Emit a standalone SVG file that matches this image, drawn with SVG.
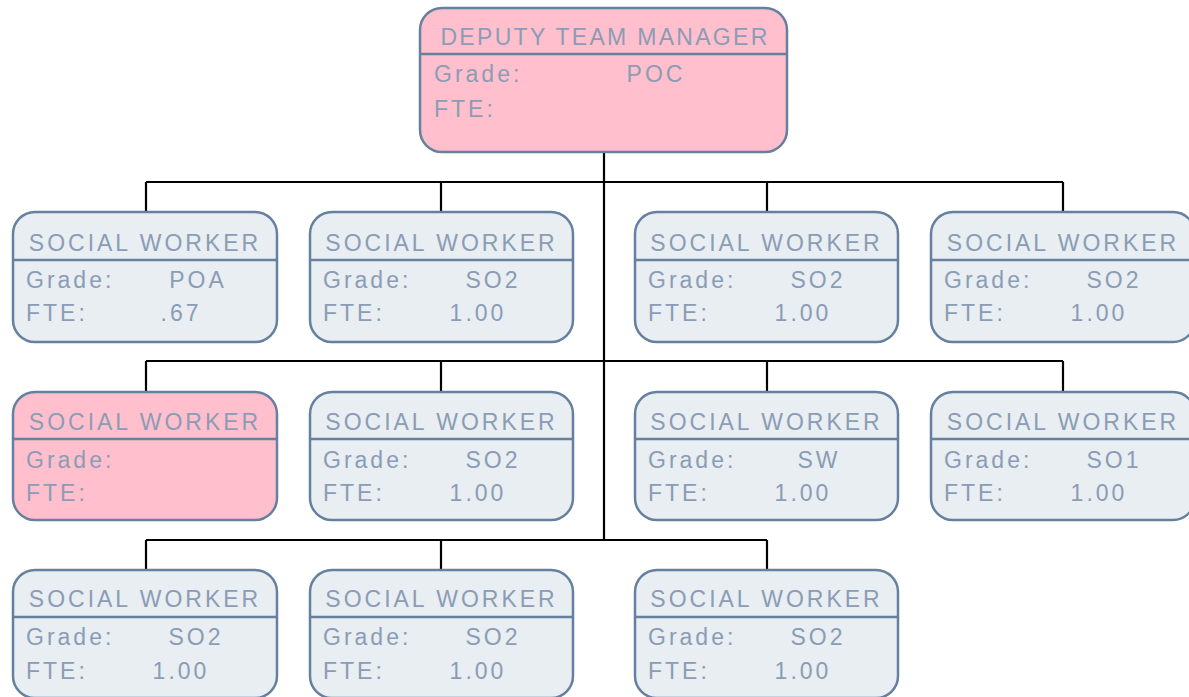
<svg xmlns="http://www.w3.org/2000/svg" width="1189" height="697" viewBox="0 0 1189 697">
<style>
.box{stroke:#66809f;stroke-width:2.5}
.pink{fill:#ffbfcc}
.grey{fill:#e8eef1}
.div{stroke:#66809f;stroke-width:2.5}
text{font-family:"Liberation Sans",Arial,sans-serif;font-size:23px;fill:#8b9cb6;letter-spacing:3px}
.t{text-anchor:middle;letter-spacing:3px}
.v{text-anchor:middle}
.con{stroke:#000;stroke-width:2.2;fill:none}
</style>
<g id="connectors">
<path class="con" d="M604 152V540M146 182H1063M146 182V212M441 182V212M767 182V212M1063 182V212M146 361H1063M146 361V392M441 361V392M767 361V392M1063 361V392M146 540H767M146 540V570M441 540V570M767 540V570"/>
</g>
<g id="n0">
<rect class="box pink" x="420" y="8" width="367" height="144" rx="22"/>
<line class="div" x1="420" y1="54" x2="787" y2="54"/>
<text class="t" x="605" y="45" style="letter-spacing:2.3px">DEPUTY TEAM MANAGER</text>
<text x="434" y="82">Grade:</text>
<text class="v" x="656" y="82">POC</text>
<text x="434" y="117">FTE:</text>
</g>
<g id="n1" transform="translate(13,212)">
<rect class="box grey" x="0" y="0" width="264" height="130" rx="22"/>
<line class="div" x1="0" y1="48" x2="264" y2="48"/>
<text class="t" x="132" y="38.5">SOCIAL WORKER</text>
<text x="13" y="75.5">Grade:</text><text class="v" x="185" y="75.5">POA</text>
<text x="13" y="108.5">FTE:</text><text class="v" x="168" y="108.5">.67</text>
</g>
<g id="n2" transform="translate(310,212)">
<rect class="box grey" x="0" y="0" width="263" height="130" rx="22"/>
<line class="div" x1="0" y1="48" x2="263" y2="48"/>
<text class="t" x="131.5" y="38.5">SOCIAL WORKER</text>
<text x="13" y="75.5">Grade:</text><text class="v" x="183" y="75.5">SO2</text>
<text x="13" y="108.5">FTE:</text><text class="v" x="168" y="108.5">1.00</text>
</g>
<g id="n3" transform="translate(635,212)">
<rect class="box grey" x="0" y="0" width="263" height="130" rx="22"/>
<line class="div" x1="0" y1="48" x2="263" y2="48"/>
<text class="t" x="131.5" y="38.5">SOCIAL WORKER</text>
<text x="13" y="75.5">Grade:</text><text class="v" x="183" y="75.5">SO2</text>
<text x="13" y="108.5">FTE:</text><text class="v" x="168" y="108.5">1.00</text>
</g>
<g id="n4" transform="translate(931,212)">
<rect class="box grey" x="0" y="0" width="264" height="130" rx="22"/>
<line class="div" x1="0" y1="48" x2="264" y2="48"/>
<text class="t" x="132" y="38.5">SOCIAL WORKER</text>
<text x="13" y="75.5">Grade:</text><text class="v" x="183" y="75.5">SO2</text>
<text x="13" y="108.5">FTE:</text><text class="v" x="168" y="108.5">1.00</text>
</g>
<g id="n5" transform="translate(13,392)">
<rect class="box pink" x="0" y="0" width="264" height="128" rx="22"/>
<line class="div" x1="0" y1="47" x2="264" y2="47"/>
<text class="t" x="132" y="37.5">SOCIAL WORKER</text>
<text x="13" y="75.5">Grade:</text>
<text x="13" y="108.5">FTE:</text>
</g>
<g id="n6" transform="translate(310,392)">
<rect class="box grey" x="0" y="0" width="263" height="128" rx="22"/>
<line class="div" x1="0" y1="47" x2="263" y2="47"/>
<text class="t" x="131.5" y="37.5">SOCIAL WORKER</text>
<text x="13" y="75.5">Grade:</text><text class="v" x="183" y="75.5">SO2</text>
<text x="13" y="108.5">FTE:</text><text class="v" x="168" y="108.5">1.00</text>
</g>
<g id="n7" transform="translate(635,392)">
<rect class="box grey" x="0" y="0" width="263" height="128" rx="22"/>
<line class="div" x1="0" y1="47" x2="263" y2="47"/>
<text class="t" x="131.5" y="37.5">SOCIAL WORKER</text>
<text x="13" y="75.5">Grade:</text><text class="v" x="184" y="75.5">SW</text>
<text x="13" y="108.5">FTE:</text><text class="v" x="168" y="108.5">1.00</text>
</g>
<g id="n8" transform="translate(931,392)">
<rect class="box grey" x="0" y="0" width="264" height="128" rx="22"/>
<line class="div" x1="0" y1="47" x2="264" y2="47"/>
<text class="t" x="132" y="37.5">SOCIAL WORKER</text>
<text x="13" y="75.5">Grade:</text><text class="v" x="183" y="75.5">SO1</text>
<text x="13" y="108.5">FTE:</text><text class="v" x="168" y="108.5">1.00</text>
</g>
<g id="n9" transform="translate(13,570)">
<rect class="box grey" x="0" y="0" width="264" height="128" rx="22"/>
<line class="div" x1="0" y1="47" x2="264" y2="47"/>
<text class="t" x="132" y="37">SOCIAL WORKER</text>
<text x="13" y="75">Grade:</text><text class="v" x="183" y="75">SO2</text>
<text x="13" y="108.5">FTE:</text><text class="v" x="168" y="108.5">1.00</text>
</g>
<g id="n10" transform="translate(310,570)">
<rect class="box grey" x="0" y="0" width="263" height="128" rx="22"/>
<line class="div" x1="0" y1="47" x2="263" y2="47"/>
<text class="t" x="131.5" y="37">SOCIAL WORKER</text>
<text x="13" y="75">Grade:</text><text class="v" x="183" y="75">SO2</text>
<text x="13" y="108.5">FTE:</text><text class="v" x="168" y="108.5">1.00</text>
</g>
<g id="n11" transform="translate(635,570)">
<rect class="box grey" x="0" y="0" width="263" height="128" rx="22"/>
<line class="div" x1="0" y1="47" x2="263" y2="47"/>
<text class="t" x="131.5" y="37">SOCIAL WORKER</text>
<text x="13" y="75">Grade:</text><text class="v" x="183" y="75">SO2</text>
<text x="13" y="108.5">FTE:</text><text class="v" x="168" y="108.5">1.00</text>
</g>
</svg>
